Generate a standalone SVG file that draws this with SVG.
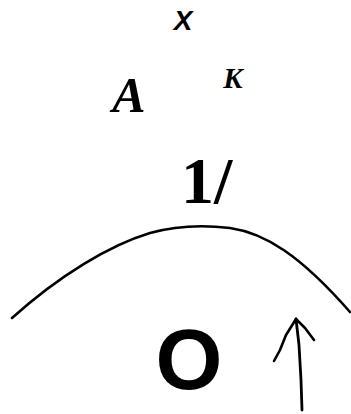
<svg xmlns="http://www.w3.org/2000/svg" width="351" height="414" viewBox="0 0 351 414">
<style>
.ink{fill:none;stroke:#000;stroke-linecap:round;stroke-linejoin:round}
</style>
<rect width="351" height="414" fill="#fff"/>
<g id="label-x"><text font-family="Liberation Sans, Arial, sans-serif" font-weight="bold" font-style="italic" x="183" y="30" font-size="28" text-anchor="middle">X</text></g>
<g id="label-a"><text font-family="Times New Roman, Liberation Serif, serif" font-weight="bold" font-style="italic" x="129" y="112" font-size="50" text-anchor="middle">A</text></g>
<g id="label-k"><text font-family="Times New Roman, Liberation Serif, serif" font-weight="bold" font-style="italic" x="233" y="88" font-size="29" text-anchor="middle">K</text></g>
<g id="label-1"><text font-family="Times New Roman, Liberation Serif, serif" font-weight="bold" x="181" y="203" font-size="66">1/</text></g>
<g id="label-o"><text font-family="Liberation Sans, Arial, sans-serif" font-weight="bold" x="189" y="389" font-size="86" text-anchor="middle">O</text></g>
<g id="connectors">
<path class="ink" stroke-width="2.6" d="M12,318 C60,275 110,245 150,233 C175,226 205,225 230,228 C265,233 300,255 350,312"/>
<path class="ink" stroke-width="2.8" d="M302,410 L301,380 L299,345 L296,319"/>
<path class="ink" stroke-width="2.6" d="M296,319 L286,335 L280,350 L274,361"/>
<path class="ink" stroke-width="2.6" d="M296,319 L305,328 L314,340"/>
</g>
</svg>
